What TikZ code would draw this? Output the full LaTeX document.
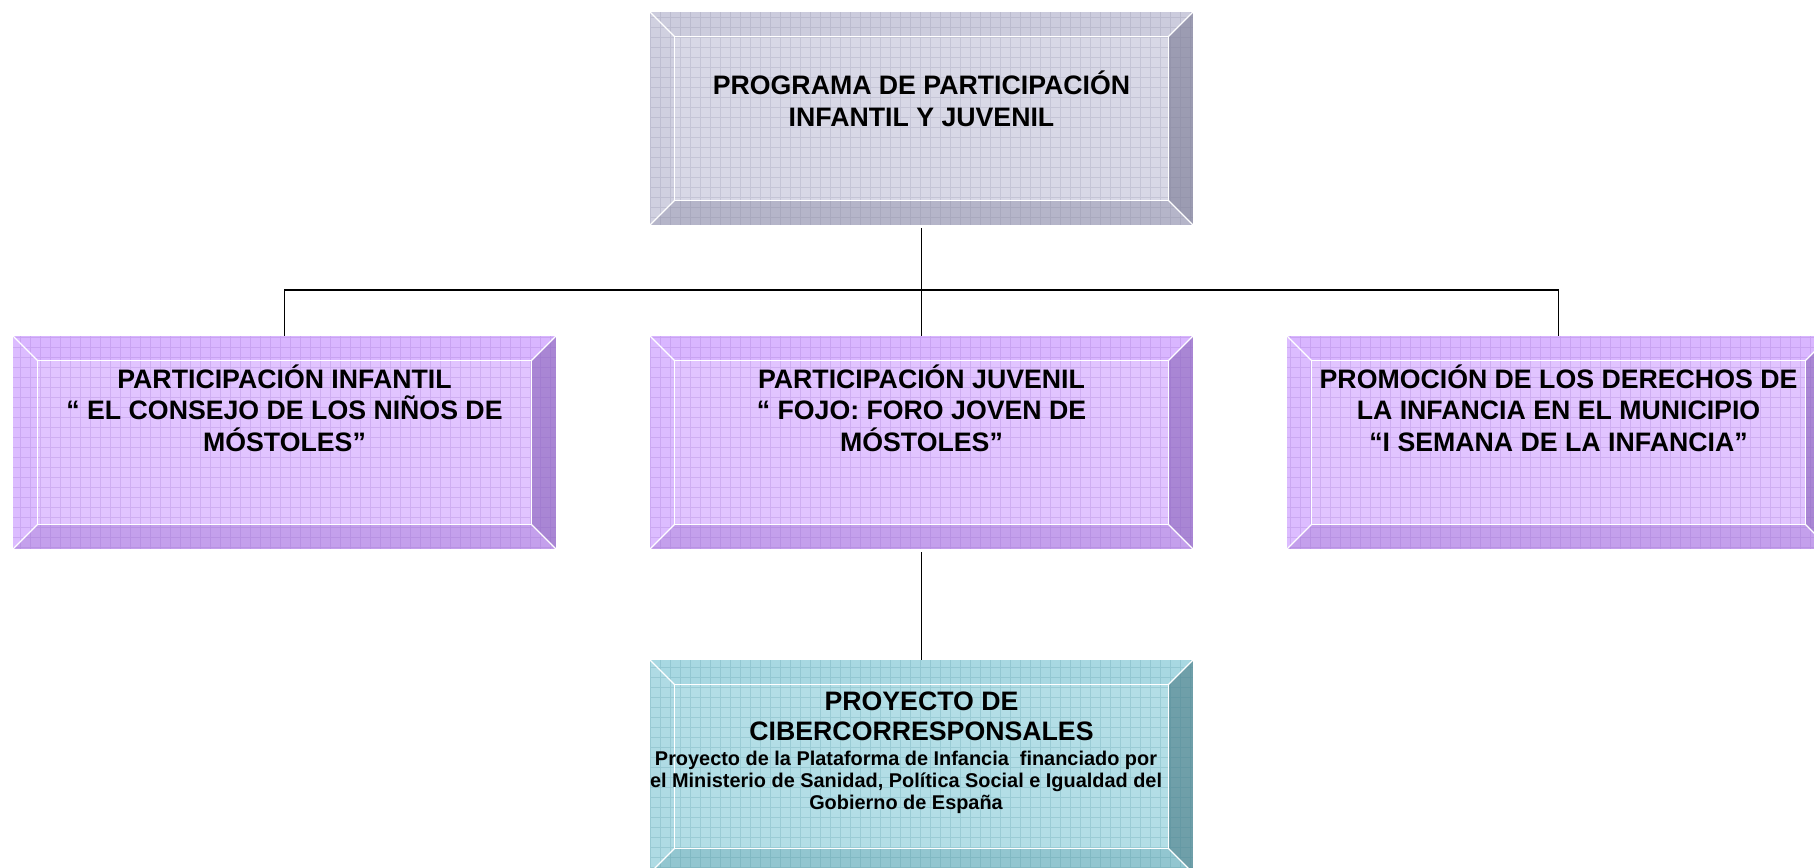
\documentclass[tikz,border=0pt]{standalone}
\usepackage{fontspec}
\setmainfont{Liberation Sans}
\definecolor{gface}{HTML}{D8D8E6}
\definecolor{gtop}{HTML}{CCCCDD}
\definecolor{gleft}{HTML}{D0D0E0}
\definecolor{gbot}{HTML}{B5B5C9}
\definecolor{gright}{HTML}{9C9CB2}
\definecolor{ggrid}{HTML}{7A7A96}
\definecolor{pface}{HTML}{E1C4FF}
\definecolor{ptop}{HTML}{D9B6FF}
\definecolor{pleft}{HTML}{DCBCFF}
\definecolor{pbot}{HTML}{C4A0EC}
\definecolor{pright}{HTML}{A986D4}
\definecolor{pgrid}{HTML}{8A5AC0}
\definecolor{tface}{HTML}{B3DEE6}
\definecolor{ttop}{HTML}{A8D8E2}
\definecolor{tleft}{HTML}{AFDBE4}
\definecolor{tbot}{HTML}{92C6D0}
\definecolor{tright}{HTML}{6F9FA9}
\definecolor{tgrid}{HTML}{3F8592}
\tikzset{
  boxnode/.style={rectangle, draw=none, inner sep=0pt, minimum width=543pt, minimum height=213pt},
  bigtext/.style={font=\bfseries\fontsize{26.7}{31.5}\selectfont, align=center, inner sep=0pt},
  bigtextb/.style={font=\bfseries\fontsize{26.7}{30}\selectfont, align=center, inner sep=0pt},
  smalltext/.style={font=\bfseries\fontsize{19.9}{22}\selectfont, align=center, inner sep=0pt},
  conn/.style={draw=black, line width=1.5pt}
}
\newcommand\bevbox[9]{%
  \node[boxnode] (#1) at (#2,#3) {};
  \coordinate (#1-inw) at ([shift={(25,-25)}]#1.north west);
  \coordinate (#1-ine) at ([shift={(-25,-25)}]#1.north east);
  \coordinate (#1-ise) at ([shift={(-25,25)}]#1.south east);
  \coordinate (#1-isw) at ([shift={(25,25)}]#1.south west);
  \fill[#4] (#1-inw) rectangle (#1-ise);
  \fill[#5] (#1.north west) -- (#1.north east) -- (#1-ine) -- (#1-inw) -- cycle;
  \fill[#6] (#1.north west) -- (#1-inw) -- (#1-isw) -- (#1.south west) -- cycle;
  \fill[#7] (#1.south west) -- (#1-isw) -- (#1-ise) -- (#1.south east) -- cycle;
  \fill[#8] (#1.north east) -- (#1.south east) -- (#1-ise) -- (#1-ine) -- cycle;
  \begin{scope}
    \clip (#1.south west) rectangle (#1.north east);
    \draw[#9, opacity=0.2, line width=0.7pt, step=10] (0,0) grid (1820,870);
  \end{scope}
  \draw[white, line width=1.3pt] (#1-inw) rectangle (#1-ise);
  \draw[white, line width=1.3pt] (#1.north west) -- (#1-inw) (#1.north east) -- (#1-ine)
       (#1.south east) -- (#1-ise) (#1.south west) -- (#1-isw);
  \draw[white, line width=0.8pt] (#1.south west) rectangle (#1.north east);
}
\begin{document}
\begin{tikzpicture}[x=1pt, y=1pt]
\useasboundingbox (0,0) rectangle (1814,867);
\fill[white] (0,0) rectangle (1814,867);

\bevbox{top}{921.5}{748.5}{gface}{gtop}{gleft}{gbot}{gright}{ggrid}
\bevbox{left}{284.5}{424.5}{pface}{ptop}{pleft}{pbot}{pright}{pgrid}
\bevbox{mid}{921.5}{424.5}{pface}{ptop}{pleft}{pbot}{pright}{pgrid}
\bevbox{right}{1558.5}{424.5}{pface}{ptop}{pleft}{pbot}{pright}{pgrid}
\bevbox{bot}{921.5}{100.5}{tface}{ttop}{tleft}{tbot}{tright}{tgrid}

\node[bigtext] (toptxt) at (921.5,768) {PROGRAMA DE PARTICIPACIÓN\\INFANTIL Y JUVENIL};
\node[bigtext] (lefttxt) at (284.5,459) {PARTICIPACIÓN INFANTIL\\“ EL CONSEJO DE LOS NIÑOS DE\\MÓSTOLES”};
\node[bigtext] (midtxt) at (921.5,459) {PARTICIPACIÓN JUVENIL\\“ FOJO: FORO JOVEN DE\\MÓSTOLES”};
\node[bigtext] (righttxt) at (1558.5,459) {PROMOCIÓN DE LOS DERECHOS DE\\LA INFANCIA EN EL MUNICIPIO\\“I SEMANA DE LA INFANCIA”};
\node[bigtextb] (bottxt) at (921.5,151) {PROYECTO DE\\CIBERCORRESPONSALES};
\node[smalltext] (botsub) at (906,85) {Proyecto de la Plataforma de Infancia~ financiado por\\el Ministerio de Sanidad, Política Social e Igualdad del\\Gobierno de España};

\coordinate (j) at (921.5,577);
\draw[conn] ([yshift=-3pt]top.south) -- (j);
\draw[conn] (left.north) -- (left.north |- j) -- (right.north |- j) -- (right.north);
\draw[conn] (mid.north) -- (mid.north |- j);
\draw[conn] ([yshift=-3pt]mid.south) -- (bot.north);
\end{tikzpicture}
\end{document}
